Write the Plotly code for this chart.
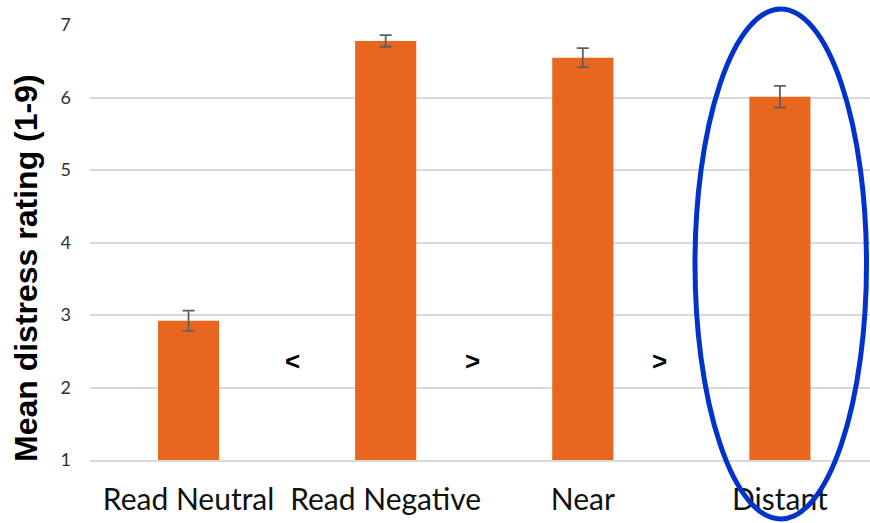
import plotly.graph_objects as go

categories = ["Read Neutral", "Read Negative", "Near", "Distant"]
means = [2.92, 6.78, 6.55, 6.01]
errors = [0.14, 0.08, 0.13, 0.15]
y_ticks = [1, 2, 3, 4, 5, 6, 7]
comparisons = ["<", ">", ">"]
comparison_x = [0.525, 1.439, 2.388]

fig = go.Figure()
fig.add_trace(go.Bar(
    x=list(range(len(categories))), y=[m - 1 for m in means], base=1,
    width=0.31, marker=dict(color="#E9661F", line=dict(width=0)),
    error_y=dict(type="data", array=errors, color="#5f5f5f", thickness=1.8, width=6),
))

for sym, xx in zip(comparisons, comparison_x):
    fig.add_annotation(x=xx, y=2.37, text="<b>" + sym.replace("<", "&lt;").replace(">", "&gt;") + "</b>",
                       showarrow=False,
                       font=dict(family="Liberation Sans, Arial", size=26, color="#000000"))

fig.add_annotation(xref="paper", yref="paper", x=(26 - 90) / 780, y=(460 - 268) / 435,
                   text="<b>Mean distress rating (1-9)</b>", textangle=-90, showarrow=False,
                   xanchor="center", yanchor="middle",
                   font=dict(family="Liberation Sans, Arial", size=32, color="#000000"))

fig.add_shape(type="circle", xref="paper", yref="paper",
              x0=(695 - 90) / 780, x1=(866.5 - 90) / 780,
              y0=(460 - 519) / 435, y1=(460 - 9) / 435,
              line=dict(color="#0033CC", width=5))

fig.update_layout(
    width=870, height=523,
    margin=dict(l=90, r=0, t=25, b=63),
    plot_bgcolor="white", paper_bgcolor="white",
    showlegend=False,
    xaxis=dict(range=[-0.5, 3.457], tickmode="array", tickvals=list(range(len(categories))),
               ticktext=categories, showgrid=False, showline=True, linecolor="#d9d9d9",
               linewidth=1.5, ticks="", ticklabelstandoff=12,
               tickfont=dict(family="Lato", size=30, color="#111111")),
    yaxis=dict(range=[1, 7], tickmode="array", tickvals=y_ticks, showgrid=True,
               gridcolor="#d9d9d9", gridwidth=1.5, zeroline=False, ticks="",
               ticklabelstandoff=18,
               tickfont=dict(family="Lato", size=18, color="#303030")),
)

fig.write_html("out.html", config={"displayModeBar": False},
               post_script="document.body.style.margin='0';")
